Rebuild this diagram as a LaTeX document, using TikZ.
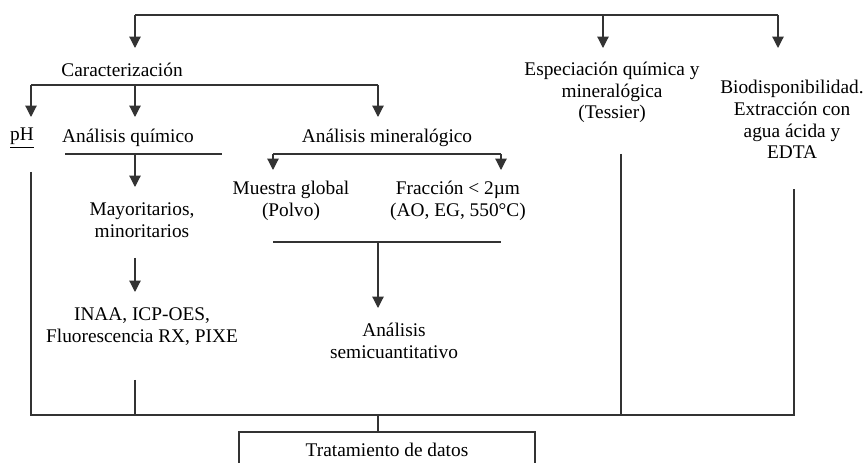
\documentclass[tikz,border=0pt]{standalone}
\usepackage{fontspec}
\setmainfont{Liberation Serif}
\usetikzlibrary{arrows.meta}
\begin{document}
\begin{tikzpicture}[x=0.75pt,y=-0.75pt,
  line/.style={draw=black!80,line width=0.9pt},
  arr/.style={line,-{Triangle[width=8.5pt,length=8.5pt]}},
  txt/.style={inner sep=0pt,align=center,font=\fontsize{14.5}{16.3}\selectfont}]
\clip (0,0) rectangle (865,463);
\fill[white] (0,0) rectangle (865,463);

% text nodes
\node[txt] (car) at (122,70) {Caracterización};
\node[txt] (ph) at (22,138) {\underline{pH}};
\node[txt] (quim) at (128,138) {Análisis químico};
\node[txt] (min) at (387,138) {Análisis mineralógico};
\node[txt] (esp) at (612,92.5) {Especiación química y\\mineralógica\\(Tessier)};
\node[txt] (bio) at (792,119.5) {Biodisponibilidad.\\Extracción con\\agua ácida y\\EDTA};
\node[txt] (may) at (142,220.5) {Mayoritarios,\\minoritarios};
\node[txt] (inaa) at (142,326.5) {INAA, ICP-OES,\\Fluorescencia RX, PIXE};
\node[txt] (mue) at (291,201) {Muestra global\\(Polvo)};
\node[txt] (fra) at (458,201) {Fracción < 2µm\\(AO, EG, 550°C)};
\node[txt] (semi) at (394,341) {Análisis\\semicuantitativo};
\node[txt] (trat) at (387,450) {Tratamiento de datos};

% coordinates
\coordinate (t0) at (135,15);
\coordinate (t1) at (603,15);
\coordinate (t2) at (778,15);
\coordinate (t0e) at (135,48);
\coordinate (t1e) at (603,48);
\coordinate (t2e) at (778,48);
\coordinate (c0) at (31,85);
\coordinate (c1) at (135,85);
\coordinate (c2) at (378,85);
\coordinate (c0e) at (31,117);
\coordinate (c1e) at (135,117);
\coordinate (c2e) at (378,117);
\coordinate (q0) at (65,154);
\coordinate (q1) at (222,154);
\coordinate (q2) at (135,154);
\coordinate (q2e) at (135,187);
\coordinate (m0) at (135,258);
\coordinate (m0e) at (135,292);
\coordinate (n0) at (273,154);
\coordinate (n1) at (501,154);
\coordinate (n0e) at (273,170);
\coordinate (n1e) at (501,170);
\coordinate (g0) at (273,242);
\coordinate (g1) at (501,242);
\coordinate (g2) at (378,276);
\coordinate (g2e) at (378,308);
\coordinate (p0) at (31,172);
\coordinate (i0) at (135,380);
\coordinate (e0) at (621,154);
\coordinate (b0) at (794,189);
\coordinate (bl) at (31,415);
\coordinate (br) at (794,415);
\coordinate (d0) at (378,415);
\coordinate (d1) at (378,432);

% top distribution
\draw[line] (t0) -- (t2);
\draw[arr] (t0) -- (t0e);
\draw[arr] (t1) -- (t1e);
\draw[arr] (t2) -- (t2e);

% caracterizacion branch
\draw[line] (c0) -- (c2);
\draw[arr] (c0) -- (c0e);
\draw[arr] (c1) -- (c1e);
\draw[arr] (c2) -- (c2e);

% analisis quimico
\draw[line] (q0) -- (q1);
\draw[arr] (q2) -- (q2e);
\draw[arr] (m0) -- (m0e);

% analisis mineralogico
\draw[line] (n0) -- (n1);
\draw[arr] (n0) -- (n0e);
\draw[arr] (n1) -- (n1e);
\draw[line] (g0) |- (g2 |- g1) -| (g1);
\draw[line] (g2 |- g1) -- (g2);
\draw[arr] (g2) -- (g2e);

% collecting lines
\draw[line] (p0) -- (bl) -- (br) -- (b0);
\draw[line] (i0) -- (i0 |- bl);
\draw[line] (e0) -- (e0 |- bl);
\draw[line] (d0) -- (d1);
\draw[line] (239,475) -- (239,432) -- (535,432) -- (535,475);
\end{tikzpicture}
\end{document}
